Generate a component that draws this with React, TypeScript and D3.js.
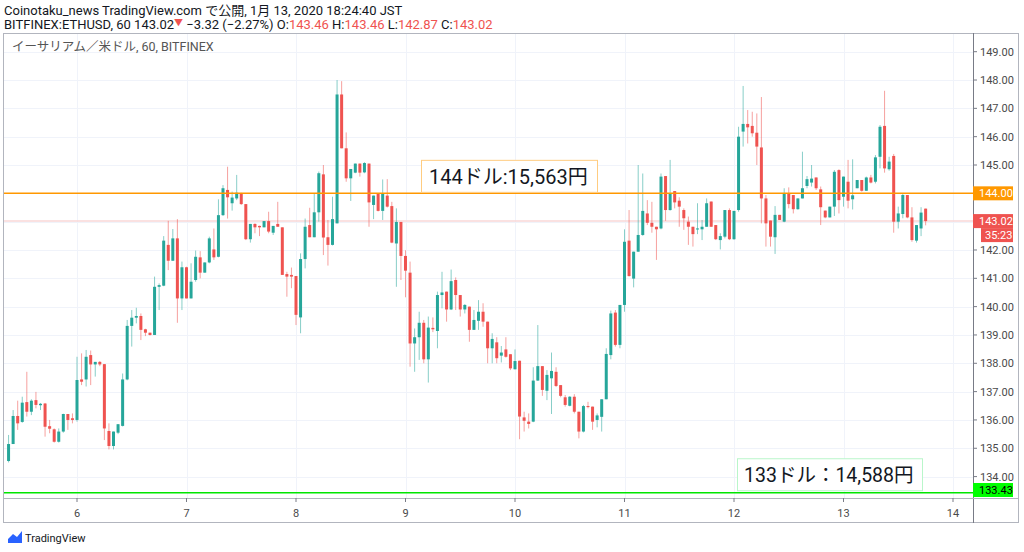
import React from 'react'
import * as d3 from 'd3'

// hourly ETHUSD candles, first one opens Jan 5 09:00 (JST)
const startTime = Date.UTC(2020, 0, 5, 9)

const opens = [
	134.55, 135.15, 136.14, 135.93, 136.63, 136.29, 136.7, 136.52, 136.58, 135.78,
	135.67, 135.23, 135.59, 136.21, 136.06, 136.0, 137.43, 137.43, 138.29, 137.96,
	138.05, 137.97, 135.61, 135.08, 135.55, 135.79, 137.43, 139.32, 139.61, 139.67,
	139.2, 139.08, 139.0, 140.7, 140.74, 142.18, 141.62, 142.41, 140.29, 141.39,
	140.29, 140.94, 141.74, 141.2, 141.56, 142.02, 141.76, 143.23, 144.12, 143.65,
	143.82, 144.0, 143.62, 142.38, 142.92, 142.85, 142.8, 143.02, 142.61, 142.92,
	142.8, 141.15, 141.12, 141.08, 139.62, 141.68, 142.88, 142.45, 143.33, 144.67,
	142.45, 142.18, 142.94, 147.49, 145.59, 144.53, 144.73, 145.05, 144.74, 145.05,
	143.59, 144.0, 143.38, 143.92, 143.55, 142.23, 142.99, 141.79, 141.2, 138.7,
	138.92, 139.43, 138.14, 139.25, 139.14, 140.41, 140.53, 139.9, 140.94, 140.41,
	139.9, 140.0, 139.18, 139.5, 139.82, 139.47, 138.53, 138.74, 138.27, 138.49,
	138.32, 137.79, 138.09, 136.09, 135.94, 135.94, 137.39, 137.9, 137.03, 137.47,
	137.7, 137.23, 136.8, 136.5, 136.82, 136.29, 135.59, 136.49, 136.47, 136.0,
	136.11, 136.73, 138.29, 139.79, 138.65, 140.06, 142.33, 140.99, 141.94, 142.53,
	143.29, 142.96, 142.82, 142.76, 144.61, 143.41, 144.08, 143.74, 143.41, 143.0,
	142.82, 142.74, 142.73, 142.82, 143.71, 142.88, 142.35, 142.47, 143.41, 142.38,
	143.41, 146.18, 146.45, 146.38, 146.14, 145.62, 143.82, 143.04, 142.45, 143.24,
	143.0, 143.98, 143.94, 143.44, 143.82, 144.26, 144.38, 144.56, 144.14, 143.39,
	143.15, 143.53, 144.82, 143.88, 144.41, 143.79, 144.18, 144.47, 144.09, 144.56,
	144.41, 145.29, 146.38, 144.85, 145.32, 143.0, 143.27, 143.94, 143.15, 142.33,
	142.76, 143.46
]

const highs = [
	135.47, 136.35, 136.68, 136.82, 137.7, 136.73, 136.99, 136.6, 136.6, 136.0,
	135.7, 135.7, 136.22, 136.21, 136.23, 138.23, 138.35, 138.47, 138.45, 138.05,
	138.08, 137.97, 135.88, 135.59, 135.85, 137.64, 139.53, 139.88, 139.96, 139.76,
	139.22, 139.08, 141.06, 140.82, 142.49, 143.03, 142.74, 143.09, 141.59, 141.41,
	141.53, 141.98, 141.96, 141.56, 142.47, 142.76, 143.79, 144.29, 144.94, 144.06,
	144.65, 144.02, 143.62, 142.92, 142.94, 142.86, 143.02, 143.35, 142.85, 143.7,
	142.8, 141.23, 141.38, 141.08, 141.88, 143.11, 143.49, 144.0, 144.77, 145.0,
	143.06, 143.88, 148.0, 147.96, 146.15, 144.86, 145.05, 145.05, 145.1, 145.05,
	143.92, 144.0, 144.49, 144.5, 143.7, 143.47, 142.99, 141.99, 141.59, 139.23,
	139.82, 139.53, 139.65, 139.62, 140.53, 141.23, 140.53, 141.31, 141.03, 140.41,
	140.09, 140.0, 139.88, 140.23, 140.12, 139.47, 139.06, 138.92, 138.61, 138.92,
	138.32, 138.49, 138.09, 136.29, 136.23, 137.86, 139.35, 137.9, 137.76, 138.38,
	137.86, 137.23, 136.88, 136.84, 136.91, 136.29, 136.53, 136.64, 136.47, 136.23,
	136.73, 138.53, 139.86, 139.88, 140.06, 142.73, 143.41, 141.94, 145.0, 144.7,
	143.76, 143.7, 142.82, 144.7, 144.61, 145.18, 144.08, 143.86, 143.47, 143.18,
	142.82, 143.65, 143.06, 143.82, 143.71, 142.88, 142.59, 143.41, 143.47, 143.38,
	146.35, 147.79, 146.94, 146.88, 146.82, 147.4, 143.94, 143.04, 143.55, 143.24,
	144.18, 144.21, 143.94, 143.82, 145.47, 144.61, 145.0, 144.56, 144.24, 143.39,
	143.53, 144.82, 144.85, 144.59, 145.18, 145.2, 144.47, 144.47, 144.59, 144.65,
	145.35, 146.41, 147.62, 145.29, 145.39, 143.53, 144.0, 143.94, 143.51, 142.88,
	143.51, 143.46
]

const lows = [
	134.5, 135.15, 135.65, 135.9, 136.12, 136.17, 136.41, 136.35, 135.41, 135.53,
	135.2, 135.2, 135.55, 135.65, 135.88, 135.94, 137.23, 137.18, 137.23, 137.53,
	137.9, 135.29, 134.96, 134.96, 135.5, 135.77, 137.4, 138.59, 139.41, 138.82,
	138.96, 138.98, 139.0, 139.88, 140.72, 141.29, 141.62, 139.43, 139.88, 140.29,
	140.29, 140.88, 141.0, 141.2, 141.53, 141.65, 141.74, 143.2, 143.11, 143.39,
	143.76, 143.59, 142.35, 142.26, 142.59, 142.49, 142.8, 142.59, 142.53, 142.82,
	141.12, 140.35, 140.65, 139.35, 139.06, 141.35, 142.45, 142.45, 143.0, 141.82,
	141.45, 142.16, 142.94, 145.59, 144.41, 143.73, 144.71, 144.59, 144.71, 142.82,
	143.09, 143.36, 143.06, 143.5, 142.24, 140.7, 140.94, 140.33, 137.88, 137.7,
	138.12, 138.0, 137.32, 139.1, 138.53, 139.94, 139.47, 139.88, 139.88, 139.65,
	139.76, 138.76, 139.18, 139.18, 139.29, 138.0, 138.0, 138.0, 138.03, 138.2,
	137.76, 137.78, 135.32, 135.59, 135.7, 135.92, 137.38, 136.85, 136.7, 136.21,
	137.16, 136.8, 136.47, 136.48, 136.23, 135.35, 135.56, 136.41, 135.65, 135.74,
	135.59, 136.73, 138.14, 138.59, 138.53, 139.82, 141.06, 140.68, 141.94, 142.5,
	142.88, 142.61, 141.65, 142.73, 143.03, 143.39, 143.47, 142.82, 142.71, 142.18,
	142.12, 142.56, 142.35, 142.82, 142.82, 142.35, 142.02, 142.41, 142.35, 142.36,
	143.35, 145.65, 145.76, 146.0, 145.0, 142.94, 142.12, 142.12, 141.86, 143.06,
	142.98, 143.47, 143.29, 143.42, 143.82, 144.18, 144.24, 144.12, 142.88, 143.12,
	143.15, 143.2, 143.29, 143.53, 143.47, 143.43, 144.18, 144.06, 144.09, 144.35,
	144.35, 144.88, 144.73, 144.8, 142.61, 142.76, 143.12, 143.12, 142.29, 142.26,
	142.49, 142.87
]

const closes = [
	135.15, 136.14, 135.88, 136.61, 136.29, 136.68, 136.53, 136.57, 135.76, 135.69,
	135.23, 135.59, 136.21, 136.0, 136.0, 137.41, 137.35, 138.23, 137.96, 138.05,
	137.96, 135.7, 135.08, 135.59, 135.85, 137.43, 139.32, 139.61, 139.67, 139.18,
	139.08, 139.0, 140.7, 140.76, 142.33, 141.62, 142.41, 140.29, 141.39, 140.29,
	140.88, 141.76, 141.2, 141.56, 142.41, 141.74, 143.23, 144.18, 143.86, 143.85,
	144.02, 143.62, 142.38, 142.92, 142.8, 142.8, 143.02, 142.65, 142.85, 142.82,
	141.12, 141.06, 141.06, 139.71, 141.68, 142.82, 142.45, 143.33, 144.71, 142.44,
	142.18, 143.09, 147.49, 145.59, 144.53, 144.86, 145.05, 144.73, 145.07, 143.68,
	143.92, 143.38, 144.0, 143.53, 142.26, 142.99, 141.79, 141.27, 138.7, 138.92,
	139.43, 138.14, 139.26, 139.2, 140.41, 140.5, 139.9, 140.9, 140.41, 139.9,
	140.06, 139.18, 139.53, 139.82, 139.47, 138.53, 138.86, 138.18, 138.38, 138.23,
	137.82, 138.08, 136.12, 135.97, 135.86, 137.39, 137.9, 137.06, 137.59, 137.73,
	137.2, 136.85, 136.53, 136.82, 136.29, 135.59, 136.49, 136.47, 135.94, 136.16,
	136.73, 138.33, 139.76, 138.65, 140.06, 142.29, 141.08, 141.94, 142.53, 143.38,
	142.96, 142.82, 142.73, 144.59, 143.41, 144.0, 143.68, 143.53, 143.12, 142.82,
	142.56, 142.76, 142.82, 143.65, 142.82, 142.38, 142.49, 143.41, 142.38, 143.38,
	146.0, 146.45, 146.33, 146.12, 145.65, 143.82, 142.94, 142.47, 143.24, 143.06,
	143.98, 143.62, 143.44, 143.82, 144.18, 144.5, 144.52, 144.18, 143.51, 143.15,
	143.53, 144.76, 143.76, 144.59, 143.74, 143.93, 144.47, 144.09, 144.56, 144.38,
	145.27, 146.35, 144.88, 145.12, 143.0, 143.29, 143.94, 143.15, 142.35, 142.88,
	143.32, 143.02
]

const dayTicks = [6, 7, 8, 9, 10, 11, 12, 13, 14]
const priceTicks = [134, 135, 136, 137, 138, 139, 140, 141, 142, 143, 144, 145, 146, 147, 148, 149]

const resistance = 144
const support = 133.43
const lastPrice = 143.02
const countdown = '35:23'
const resistanceNote = '144ドル:15,563円'
const supportNote = '133ドル：14,588円'

const UP = '#26a69a'
const DOWN = '#ef5350'
const TEXT = '#131722'
const FONT = "Roboto, 'Noto Sans CJK JP', sans-serif"

const left = 3
const right = 1019
const axisX = 973
const top = 33
const axisY = 498
const bottom = 523

const x = d3
	.scaleUtc()
	.domain([new Date(Date.UTC(2020, 0, 6)), new Date(Date.UTC(2020, 0, 14))])
	.range([77, 953])

const y = d3.scaleLinear().domain([134, 149]).range([476.6, 51.7])

const fmt = d3.format('.2f')

const App = () => {
	const candles = opens.map((o, i) => ({
		t: new Date(startTime + i * 3600e3),
		o,
		h: highs[i],
		l: lows[i],
		c: closes[i]
	}))

	const priceBox = (v: number, fill: string, color: string, label: string) => {
		const cy = Math.min(y(v), axisY - 8)
		return (
			<g>
				<rect x={axisX} y={cy - 7} width={40} height={14} fill={fill} />
				<text x={axisX + 6} y={cy + 4} fontSize={11} fill={color}>
					{label}
				</text>
			</g>
		)
	}

	return (
		<svg
			width={1024}
			height={552}
			style={{ position: 'absolute', left: 0, top: 0, background: '#fff' }}
			fontFamily={FONT}
		>
			{/* header */}
			<text x={4} y={15} fontSize={13} fill={TEXT}>
				Coinotaku_news TradingView.com で公開, 1月 13, 2020 18:24:40 JST
			</text>
			<text x={4} y={28.5} fontSize={13} fill={TEXT}>
				<tspan>BITFINEX:ETHUSD, 60 {fmt(lastPrice)}</tspan>
				<tspan fill={DOWN} fontSize={9} dy={-3}>▼</tspan>
				<tspan dy={3}> −3.32 (−2.27%) O:</tspan>
				<tspan fill={DOWN}>{fmt(opens[opens.length - 1])}</tspan>
				<tspan> H:</tspan>
				<tspan fill={DOWN}>{fmt(highs[highs.length - 1])}</tspan>
				<tspan> L:</tspan>
				<tspan fill={DOWN}>{fmt(lows[lows.length - 1])}</tspan>
				<tspan> C:</tspan>
				<tspan fill={DOWN}>{fmt(closes[closes.length - 1])}</tspan>
			</text>

			{/* grid */}
			<g stroke="#f0f3fa" strokeWidth={1}>
				{priceTicks.map((p) => (
					<line key={p} x1={left} x2={axisX} y1={Math.round(y(p)) + 0.5} y2={Math.round(y(p)) + 0.5} />
				))}
				{dayTicks.map((d) => {
					const xx = Math.round(x(new Date(Date.UTC(2020, 0, d)))) + 0.5
					return <line key={d} x1={xx} x2={xx} y1={top} y2={axisY} />
				})}
			</g>

			<text x={12} y={51} fontSize={12.5} fill="#555">
				イーサリアム／米ドル, 60, BITFINEX
			</text>

			{/* last price line */}
			<line x1={left} x2={axisX} y1={y(lastPrice)} y2={y(lastPrice)} stroke="#f8d7d7" strokeWidth={1.5} />

			{/* candles */}
			<g>
				{candles.map((d, i) => {
					const cx = x(d.t)
					const col = d.c >= d.o ? UP : DOWN
					const yTop = y(Math.max(d.o, d.c))
					const yBot = y(Math.min(d.o, d.c))
					return (
						<g key={i}>
							<line x1={cx} x2={cx} y1={y(d.h)} y2={y(d.l)} stroke={col} strokeOpacity={0.55} strokeWidth={1} />
							<rect x={cx - 1.5} y={yTop} width={3} height={Math.max(1, yBot - yTop)} fill={col} />
						</g>
					)
				})}
			</g>

			{/* horizontal levels */}
			<line x1={left} x2={axisX} y1={y(resistance)} y2={y(resistance)} stroke="#ff9800" strokeWidth={1.5} />
			<line x1={left} x2={axisX} y1={y(support)} y2={y(support)} stroke="#00e600" strokeWidth={1.5} />

			{/* notes */}
			<rect x={421.5} y={y(resistance) - 33} width={176} height={32} fill="#fff" stroke="#ffcc80" />
			<text x={429} y={y(resistance) - 9.5} fontSize={20} fill={TEXT}>
				{resistanceNote}
			</text>
			<rect x={737.5} y={y(support) - 34} width={185} height={32} fill="#fff" stroke="#b9f6ca" />
			<text x={744} y={y(support) - 10.5} fontSize={19.5} fill={TEXT}>
				{supportNote}
			</text>

			{/* frame */}
			<rect x={left + 0.5} y={top + 0.5} width={right - left - 1} height={bottom - top - 1} fill="none" stroke="#b2b5be" />
			<line x1={axisX + 0.5} x2={axisX + 0.5} y1={top} y2={bottom} stroke="#787b86" />
			<line x1={left} x2={right} y1={axisY + 0.5} y2={axisY + 0.5} stroke="#b2b5be" />

			{/* price axis */}
			<g fontSize={11} fill="#4a4a4a">
				{priceTicks
					.filter((p) => p !== 143 && p !== 144)
					.map((p) => (
						<g key={p}>
							<line x1={axisX} x2={axisX + 4} y1={y(p)} y2={y(p)} stroke="#787b86" />
							<text x={axisX + 7} y={y(p) + 4}>
								{fmt(p)}
							</text>
						</g>
					))}
			</g>
			{priceBox(resistance, '#ff9800', '#fff', fmt(resistance))}
			{priceBox(lastPrice, DOWN, '#fff', fmt(lastPrice))}
			<rect x={axisX + 8} y={y(lastPrice) + 7} width={32} height={14} fill={DOWN} />
			<text x={axisX + 12} y={y(lastPrice) + 18} fontSize={11} fill="#fff">
				{countdown}
			</text>
			{priceBox(support, '#00ff00', '#000', fmt(support))}

			{/* time axis */}
			<g fontSize={11} fill="#4a4a4a" textAnchor="middle">
				{dayTicks.map((d) => {
					const xx = x(new Date(Date.UTC(2020, 0, d)))
					return (
						<g key={d}>
							<line x1={xx} x2={xx} y1={axisY} y2={axisY + 4} stroke="#787b86" />
							<text x={xx} y={axisY + 19}>
								{d}
							</text>
						</g>
					)
				})}
			</g>

			{/* logo */}
			<g transform="translate(8,531)">
				<path d="M0,8 L5,3 L9,6 L14,0 L14,12 L0,12 Z" fill="#2962ff" />
			</g>
			<text x={25} y={542} fontSize={11} fill={TEXT}>
				TradingView
			</text>
		</svg>
	)
}

export default App
